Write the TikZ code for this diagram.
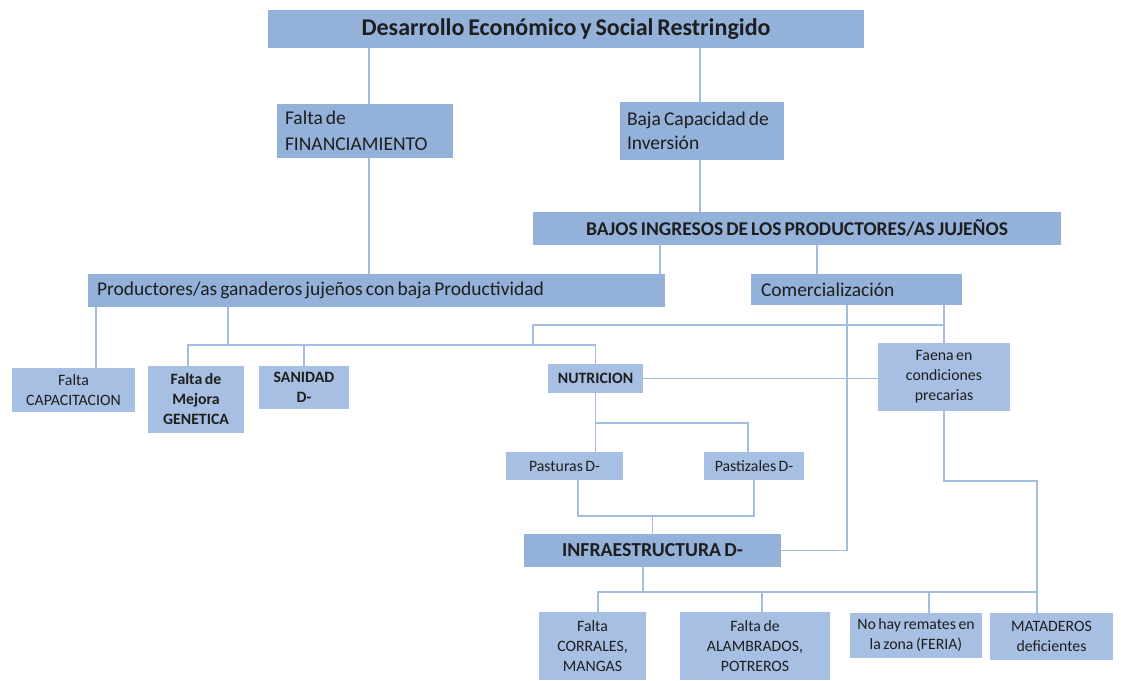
\documentclass[tikz,border=0pt]{standalone}
\usepackage{fontspec}
\setmainfont{Carlito}[WordSpace=0.7]
\definecolor{boxA}{HTML}{93B1D9}
\definecolor{boxB}{HTML}{A6BFE2}
\definecolor{lineC}{HTML}{A3BDE0}
\definecolor{txt}{HTML}{1E1E1E}
\tikzset{
  bx/.style={fill=boxA, inner sep=0pt, text=txt, font=\fontsize{20}{25}\selectfont},
  sbx/.style={fill=boxB, inner sep=0pt, text=txt, align=center, font=\fontsize{15.8}{20}\selectfont},
  conn/.style={draw=lineC, line width=1.6pt}
}
\begin{document}
\begin{tikzpicture}[x=1pt,y=-1pt]
\useasboundingbox[fill=white] (0,0) rectangle (1121,680);
% big boxes
\node[bx, minimum width=596, minimum height=38, font=\fontsize{24}{28}\selectfont\bfseries] (top) at (566,29) {Desarrollo Económico y Social Restringido};
\node[bx, minimum width=176, minimum height=54, text width=160, align=flush left, font=\fontsize{19.5}{26}\selectfont] (fin) at (365,131) {Falta de\\FINANCIAMIENTO};
\node[bx, minimum width=164, minimum height=58, text width=150, align=flush left, font=\fontsize{19.5}{24}\selectfont] (baja) at (702,131) {Baja Capacidad de\\Inversión};
\node[bx, minimum width=528, minimum height=33, font=\fontsize{19.5}{22}\selectfont\bfseries] (bajos) at (797,228.5) {BAJOS INGRESOS DE LOS PRODUCTORES/AS JUJEÑOS};
\node[bx, minimum width=577, minimum height=33, text width=559, align=flush left, font=\fontsize{19.5}{22}\selectfont] (prod) at (376.5,290.5) {Productores/as ganaderos jujeños con baja Productividad};
\node[bx, minimum width=211, minimum height=31, text width=191, align=flush left, font=\fontsize{19.5}{22}\selectfont] (com) at (856.5,289.5) {Comercialización};
% small boxes
\node[sbx, minimum width=123, minimum height=44] (cap) at (73.5,390) {Falta\\CAPACITACION};
\node[sbx, minimum width=96, minimum height=67, font=\fontsize{15.8}{20}\selectfont\bfseries] (gen) at (196,399.5) {Falta de\\Mejora\\GENETICA};
\node[sbx, minimum width=90, minimum height=43, font=\fontsize{15.8}{20}\selectfont\bfseries] (san) at (304,387.5) {SANIDAD\\D-};
\node[sbx, minimum width=95, minimum height=29, font=\fontsize{15.8}{20}\selectfont\bfseries] (nut) at (595.5,378.5) {NUTRICION};
\node[sbx, minimum width=132, minimum height=68] (faena) at (944,377) {Faena en\\condiciones\\precarias};
\node[sbx, minimum width=117, minimum height=28] (past) at (564.5,466) {Pasturas D-};
\node[sbx, minimum width=100, minimum height=28] (pastiz) at (754,466) {Pastizales D-};
\node[bx, minimum width=257, minimum height=33, font=\fontsize{19.8}{22}\selectfont\bfseries] (infra) at (652.5,550.5) {INFRAESTRUCTURA D-};
\node[sbx, minimum width=107, minimum height=68] (corr) at (592.5,646) {Falta\\CORRALES,\\MANGAS};
\node[sbx, minimum width=150, minimum height=68] (alam) at (755,646) {Falta de\\ALAMBRADOS,\\POTREROS};
\node[sbx, minimum width=132, minimum height=45] (rem) at (916,635.5) {No hay remates en\\la zona (FERIA)};
\node[sbx, minimum width=123, minimum height=47] (mat) at (1051.5,636.5) {MATADEROS\\deficientes};
% bus levels
\coordinate (busA) at (0,345);
\coordinate (busB) at (533,325);
\coordinate (busC) at (0,423);
\coordinate (busD) at (0,516);
\coordinate (busE) at (0,481);
\coordinate (busF) at (0,592);
\coordinate (tapA) at (228,345);
\coordinate (tapB) at (700,0);
% connectors
\draw[conn] ([xshift=4pt]fin.north) -- ([xshift=4pt]fin.north |- top.south);
\draw[conn] (tapB |- baja.north) -- (tapB |- top.south);
\draw[conn] (tapB |- baja.south) -- (tapB |- bajos.north);
\draw[conn] ([xshift=4pt]fin.south) -- ([xshift=4pt]fin.south |- prod.north);
\draw[conn] ([xshift=-5pt]prod.north east) -- ([xshift=-5pt]prod.north east |- bajos.south);
\draw[conn] ([xshift=-39.5pt]com.north) -- ([xshift=-39.5pt]com.north |- bajos.south);
\draw[conn] ([xshift=22.5pt]cap.north) -- ([xshift=22.5pt]cap.north |- prod.south);
\draw[conn] (tapA |- prod.south) -- (tapA);
\draw[conn] ([xshift=-8pt]gen.north) -- ([xshift=-8pt]gen.north |- busA) -- (nut.north |- busA) -- (nut.north);
\draw[conn] (san.north) -- (san.north |- busA);
\draw[conn] (faena.north |- com.south) -- (faena.north);
\draw[conn] (faena.north |- busB) -- (busB) -- (busB |- busA);
\draw[conn] (nut.east) -- (nut.east -| faena.west);
\draw[conn] ([xshift=-9.5pt]com.south) |- (infra.east);
\draw[conn] (nut.south) -- (nut.south |- past.north);
\draw[conn] (nut.south |- busC) -- ([xshift=-6pt]pastiz.north |- busC) -- ([xshift=-6pt]pastiz.north);
\draw[conn] ([xshift=13.5pt]past.south) -- ([xshift=13.5pt]past.south |- busD) -- (pastiz.south |- busD) -- (pastiz.south);
\draw[conn] (infra.north |- busD) -- (infra.north);
\draw[conn] (faena.south) -- (faena.south |- busE) -- ([xshift=-14.5pt]mat.north |- busE) -- ([xshift=-14.5pt]mat.north);
\draw[conn] ([xshift=-9.5pt]infra.south) -- ([xshift=-9.5pt]infra.south |- busF);
\draw[conn] ([xshift=5.5pt]corr.north) -- ([xshift=5.5pt]corr.north |- busF) -- ([xshift=-14.5pt]mat.north |- busF);
\draw[conn] ([xshift=7pt]alam.north) -- ([xshift=7pt]alam.north |- busF);
\draw[conn] ([xshift=13pt]rem.north) -- ([xshift=13pt]rem.north |- busF);
\end{tikzpicture}
\end{document}
